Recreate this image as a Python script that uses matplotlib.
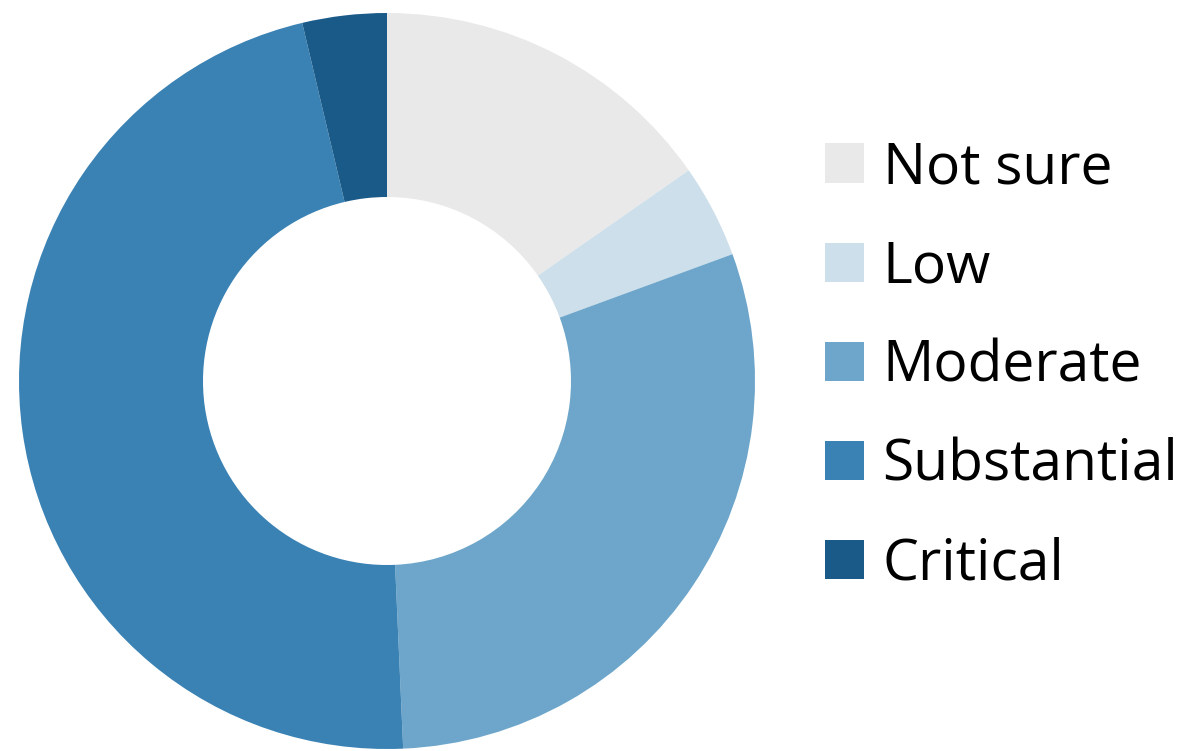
import matplotlib
matplotlib.use("Agg")
import matplotlib.pyplot as plt
from matplotlib.patches import Patch

categories = ["Not sure", "Low", "Moderate", "Substantial", "Critical"]
shares = [15.3, 4.1, 29.9, 47.0, 3.7]
colors = ["#E9E9E9", "#CCDFEA", "#6DA6CA", "#3A82B4", "#1A5A89"]

W, H = 1184, 751
fig = plt.figure(figsize=(W / 100, H / 100), dpi=100)
fig.patch.set_facecolor("white")

# Donut: centre at (387, 381) px from top-left, outer radius 368 px
cx, cy, r = 387, 381, 368
ax = fig.add_axes([(cx - r) / W, (H - cy - r) / H, 2 * r / W, 2 * r / H])
ax.pie(shares, colors=colors, startangle=90, counterclock=False,
       radius=1.0, wedgeprops=dict(width=0.5, linewidth=0))
ax.set_xlim(-1, 1)
ax.set_ylim(-1, 1)
ax.set_aspect("equal")
ax.axis("off")

handles = [Patch(facecolor=c, edgecolor="none") for c in colors]
fig.legend(handles, categories, loc="upper left",
           bbox_to_anchor=(825 / W, 1 - 140 / H),
           frameon=False, prop=dict(family="Open Sans", size=41),
           handlelength=0.68, handleheight=0.68, handletextpad=0.33,
           labelspacing=0.74, borderaxespad=0, borderpad=0)

fig.savefig("out.png", dpi=100, facecolor="white")
